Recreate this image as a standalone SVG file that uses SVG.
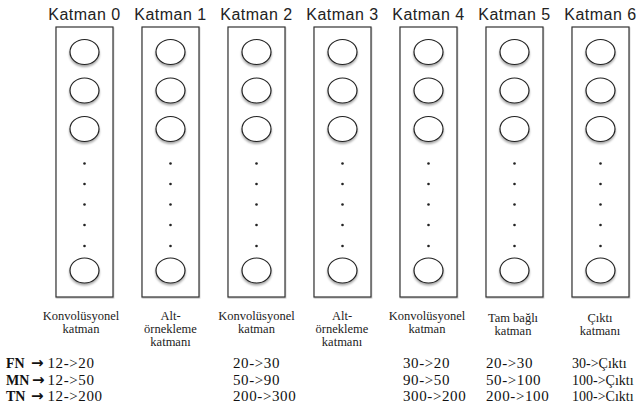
<svg xmlns="http://www.w3.org/2000/svg" width="641" height="407" viewBox="0 0 641 407">
<defs>
<filter id="sh" x="-30%" y="-30%" width="160%" height="180%">
<feDropShadow dx="0" dy="2" stdDeviation="1.2" flood-color="#000" flood-opacity="0.35"/>
</filter>
<filter id="bsh" x="-10%" y="-5%" width="120%" height="110%">
<feDropShadow dx="0.5" dy="1" stdDeviation="0.6" flood-color="#000" flood-opacity="0.25"/>
</filter>
<g id="col">
<rect x="0" y="27" width="57" height="270" fill="#fff" stroke="#333" stroke-width="1.2" filter="url(#bsh)"/>
<ellipse cx="28.5" cy="52" rx="14.5" ry="12.5" fill="#fff" stroke="#222" stroke-width="1.2" filter="url(#sh)"/>
<ellipse cx="28.5" cy="90.5" rx="14.5" ry="12.5" fill="#fff" stroke="#222" stroke-width="1.2" filter="url(#sh)"/>
<ellipse cx="28.5" cy="129" rx="14.5" ry="12.5" fill="#fff" stroke="#222" stroke-width="1.2" filter="url(#sh)"/>
<ellipse cx="28.5" cy="270.5" rx="14.5" ry="12.5" fill="#fff" stroke="#222" stroke-width="1.2" filter="url(#sh)"/>
<circle cx="28.5" cy="163.5" r="1.3" fill="#222"/>
<circle cx="28.5" cy="184" r="1.3" fill="#222"/>
<circle cx="28.5" cy="204.5" r="1.3" fill="#222"/>
<circle cx="28.5" cy="225" r="1.3" fill="#222"/>
<circle cx="28.5" cy="246" r="1.3" fill="#222"/>
</g>
</defs>
<style>
.t{font-family:"Liberation Sans",Arial,sans-serif;font-size:16px;letter-spacing:0.5px;fill:#222;text-anchor:middle}
.l{font-family:"Liberation Serif","Times New Roman",serif;font-size:12.5px;fill:#222;text-anchor:middle}
.n{font-family:"Liberation Serif","Times New Roman",serif;font-size:15px;letter-spacing:0.6px;fill:#111}
.c{font-family:"Liberation Serif","Times New Roman",serif;font-size:14px;fill:#111}
.b{font-family:"Liberation Serif","Times New Roman",serif;font-size:14px;font-weight:bold;fill:#111}
.a{font-family:"DejaVu Sans",sans-serif;font-size:15px;font-weight:bold;fill:#111}
</style>
<rect width="641" height="407" fill="#fff"/>
<g id="layer0"><use href="#col" x="56"/><text class="t" x="84.5" y="20">Katman 0</text></g>
<g id="layer1"><use href="#col" x="142"/><text class="t" x="170.5" y="20">Katman 1</text></g>
<g id="layer2"><use href="#col" x="228"/><text class="t" x="256.5" y="20">Katman 2</text></g>
<g id="layer3"><use href="#col" x="314"/><text class="t" x="342.5" y="20">Katman 3</text></g>
<g id="layer4"><use href="#col" x="400"/><text class="t" x="428.5" y="20">Katman 4</text></g>
<g id="layer5"><use href="#col" x="486"/><text class="t" x="514.5" y="20">Katman 5</text></g>
<g id="layer6"><use href="#col" x="572"/><text class="t" x="600.5" y="20">Katman 6</text></g>
<g id="connectors"></g>
<g id="labels">
<text class="l" x="81" y="320">Konvolüsyonel</text>
<text class="l" x="81" y="333">katman</text>
<text class="l" x="170.5" y="320">Alt-</text>
<text class="l" x="170.5" y="333">örnekleme</text>
<text class="l" x="170.5" y="346">katmanı</text>
<text class="l" x="256.5" y="320">Konvolüsyonel</text>
<text class="l" x="256.5" y="333">katman</text>
<text class="l" x="342" y="320">Alt-</text>
<text class="l" x="342" y="333">örnekleme</text>
<text class="l" x="342" y="346">katmanı</text>
<text class="l" x="427" y="320">Konvolüsyonel</text>
<text class="l" x="427" y="333">katman</text>
<text class="l" x="513" y="322">Tam bağlı</text>
<text class="l" x="513" y="335">katman</text>
<text class="l" x="600" y="322">Çıktı</text>
<text class="l" x="600" y="335">katmanı</text>
</g>
<g id="table">
<text class="b" x="6" y="368">FN</text><text class="a" x="31" y="368">→</text>
<text class="b" x="6" y="384.5">MN</text><text class="a" x="32" y="384.5">→</text>
<text class="b" x="6" y="401">TN</text><text class="a" x="31" y="401">→</text>
<text class="n" x="47.5" y="368">12-&gt;20</text>
<text class="n" x="47.5" y="384.5">12-&gt;50</text>
<text class="n" x="47.5" y="401">12-&gt;200</text>
<text class="n" x="233" y="368">20-&gt;30</text>
<text class="n" x="233" y="384.5">50-&gt;90</text>
<text class="n" x="233" y="401">200-&gt;300</text>
<text class="n" x="403" y="368">30-&gt;20</text>
<text class="n" x="403" y="384.5">90-&gt;50</text>
<text class="n" x="403" y="401">300-&gt;200</text>
<text class="n" x="486" y="368">20-&gt;30</text>
<text class="n" x="486" y="384.5">50-&gt;100</text>
<text class="n" x="486" y="401">200-&gt;100</text>
<text class="c" x="572" y="368">30-&gt;Çıktı</text>
<text class="c" x="572" y="384.5">100-&gt;Çıktı</text>
<text class="c" x="572" y="401">100-&gt;Cıktı</text>
</g>
</svg>
